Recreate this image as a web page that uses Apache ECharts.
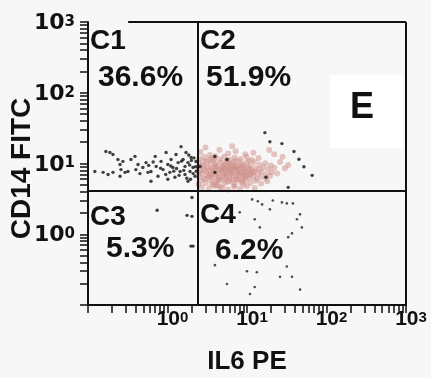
<!DOCTYPE html>
<html>
<head>
<meta charset="utf-8">
<script src="https://cdn.jsdelivr.net/npm/echarts@6/dist/echarts.min.js"></script>
<style>
html,body{margin:0;padding:0;background:#f7f7f7;}
#chart{width:431px;height:378px;}
</style>
</head>
<body>
<div id="chart"></div>
<script>
// ---- axis ticks / labels ----
const tickValues = [0.1,0.2,0.3,0.4,0.5,0.6,0.7,0.8,0.9,
  1,2,3,4,5,6,7,8,9,
  10,20,30,40,50,60,70,80,90,
  100,200,300,400,500,600,700,800,900,1000];
const labelValues = [1, 10, 100, 1000];
const labelExponents = ['0', '1', '2', '3'];
const xAxisTitle = 'IL6 PE';
const yAxisTitle = 'CD14 FITC';

// ---- quadrant gates (IL6 PE, CD14 FITC) ----
const gateX = 2.4;
const gateY = 4.1;
const quadrantNames = ['C1', 'C2', 'C3', 'C4'];
const quadrantPercents = ['36.6%', '51.9%', '5.3%', '6.2%'];
const panelLetter = 'E';

// ---- events: [IL6 PE, CD14 FITC] ----
const blackEventsC1 = [
  [0.168,14.8],[0.189,14.3],[0.206,13.4],[0.122,7.7],[0.155,7.5],[0.179,7.0],[0.206,7.5],
  [0.238,11.4],[0.253,9.7],[0.275,10.7],[0.26,8.2],[0.292,7.5],[0.318,7.7],[0.253,6.6],
  [0.347,11.4],[0.39,12.6],[0.426,9.7],[0.40,8.2],[0.49,8.8],[0.537,10.3],[0.569,7.5],
  [0.62,7.7],[0.70,12.6],[0.72,9.1],[0.76,6.6],[0.83,10.7],[0.88,8.2],[0.96,14.3],
  [1.01,9.7],[1.07,7.5],[1.11,11.4],[1.17,8.8],[1.24,6.4],[1.28,13.4],[1.36,10.3],
  [1.44,7.7],[1.48,17.3],[1.57,11.4],[1.66,9.1],[1.66,7.0],[1.71,14.3],[1.81,10.3],
  [1.92,7.7],[1.98,12.2],[2.09,8.8],[2.22,6.6],[2.28,10.7],[1.81,5.6],[1.01,6.0],[0.62,5.6],
  [1.9,9.5],[2.1,7.2],[2.0,11],[1.6,8.0],[1.75,6.2],[2.25,9.0],[1.3,8.5],[1.5,10.8],
  [1.2,7.8],[0.95,7.0],[1.85,13.2],[2.15,12.0],[0.45,7.2],[0.58,9.4],[0.82,8.6],[1.4,6.8],
  [1.95,6.0],[2.3,7.8],[1.1,9.2],[0.66,10.5]
];
const blackEventsC2 = [
  [16.8,27.3],[19.4,20.3],[27.5,19.1],[39,14.8],[3.95,12.6],[5.6,11.4],[3.95,7.5],
  [17.3,6.4],[66,6.8],[33,4.6],[2.56,9.1],[45,11.5],[52,9.0]
];
const blackEventsC3 = [
  [0.74,2.18],[1.76,1.85],[2.03,1.79],[1.97,0.68],[2.03,3.3],[2.1,0.68]
];
const blackEventsC4 = [
  [11.6,3.11],[13.7,2.92],[15.5,2.64],[19.4,2.25],[21.1,3.0],[27.5,2.82],[31.7,2.73],
  [37.8,2.73],[46.5,1.91],[42.5,1.63],[49,1.25],[36.8,1.03],[8.1,2.04],[12.5,1.63],
  [14.5,1.25],[33,0.91],[3.95,0.366],[13.3,0.29],[10,0.30],[26,0.25],[31.7,0.35],
  [36.8,0.25],[12.5,0.18],[10.9,0.143],[5.6,0.198],[46.5,0.165]
];
const pinkEvents = [
  [2.6,14.5],[3.4,13.2],[4.5,15.5],[5.8,13.8],[7.2,14.9],[9.5,13.5],[3.0,16.8],[6.5,17.5],[12,14.2],[4.0,12.8],
  [2.5,11.8],[2.9,12.4],[3.3,11.2],[3.9,12.1],[4.6,11.5],[5.2,12.6],[6.1,11.3],[7.0,12.2],[8.3,11.6],[9.9,12.4],
  [11.5,11.2],[14,12],[5.6,11.0],[3.6,11.9],
  [2.45,10.2],[2.7,9.4],[3.1,10.6],[3.5,9.8],[3.8,10.9],[4.2,9.3],[4.7,10.4],[5.1,9.6],[5.6,10.8],[6.2,9.5],
  [6.8,10.3],[7.5,9.2],[8.1,10.6],[8.9,9.7],[9.8,10.2],[11,9.4],[12.5,10.5],[14.5,9.6],[17,10.1],[20,9.4],
  [2.8,10.8],[4.0,10.1],[5.9,10.0],[7.2,10.9],[10.5,10.9],
  [2.5,8.6],[2.9,8.2],[3.2,8.9],[3.6,8.4],[4.1,8.7],[4.5,8.1],[4.9,8.9],[5.4,8.3],[5.9,8.8],[6.5,8.2],
  [7.1,8.6],[7.8,8.0],[8.5,8.7],[9.3,8.3],[10.2,8.8],[11.4,8.1],[12.8,8.6],[14.2,8.2],[16,8.8],[18.5,8.3],
  [22,8.7],[3.4,8.0],[5.1,8.5],[6.9,9.0],[9.0,9.0],
  [2.42,7.5],[2.75,7.2],[3.05,7.8],[3.4,7.1],[3.8,7.6],[4.3,7.3],[4.8,7.9],[5.3,7.2],[5.8,7.6],[6.4,7.1],
  [7.0,7.7],[7.7,7.2],[8.4,7.6],[9.1,7.0],[10,7.5],[11,7.1],[12.2,7.7],[13.6,7.2],[15.3,7.6],[17.5,7.0],
  [20.5,7.5],[24,7.2],[4.0,7.9],[6.1,7.95],[9.6,7.8],
  [2.5,6.6],[2.85,6.2],[3.2,6.8],[3.6,6.3],[4.0,6.7],[4.4,6.1],[4.9,6.5],[5.4,6.9],[6.0,6.2],[6.6,6.6],
  [7.3,6.1],[8.0,6.8],[8.8,6.3],[9.7,6.7],[10.8,6.2],[12,6.6],[13.4,6.1],[15,6.5],[17.2,6.2],[19.5,6.7],
  [5.1,6.0],[3.0,6.0],
  [2.6,5.7],[3.0,5.3],[3.5,5.8],[4.0,5.4],[4.6,5.9],[5.2,5.2],[5.9,5.7],[6.7,5.3],[7.5,5.8],[8.5,5.4],
  [9.6,5.9],[11,5.3],[12.8,5.7],[15,5.2],[18,5.6],[2.45,5.1],[4.3,5.0],
  [2.7,4.6],[3.3,4.4],[4.1,4.8],[4.9,4.5],[5.8,4.3],[6.9,4.7],[8.2,4.4],[10,4.8],[12.5,4.5],[3.8,4.9],
  [3.7,7.0],[4.4,6.6],[5.0,7.4],[5.5,6.4],[6.3,7.4],[7.4,6.9],[8.6,7.3],[3.3,6.5],[4.8,8.3],[6.0,8.5],
  [7.6,8.4],[9.4,6.5],[5.7,5.5],[6.5,5.9],[7.9,6.0],[4.2,5.7],[3.6,5.1],[8.9,5.6],[10.5,6.9],[11.8,7.4],
  [2.6,7.9],[2.9,9.2],[3.9,9.0],[5.3,9.2],[6.6,9.4],[8.2,9.3],[10.7,8.4],[4.6,4.6],[7.0,4.9],[9.0,5.0],
  [26,10.5],[30,8.6],[28,12.5],[33,9.5],[22,13.5],[19,15.5]
];

const ink = '#111111';
const chart = echarts.init(document.getElementById('chart'));

function expOf(v) {
  const idx = labelValues.findIndex(lv => Math.abs(Math.log10(lv) - Math.log10(v)) < 0.01);
  return idx >= 0 ? labelExponents[idx] : String(Math.round(Math.log10(v)));
}

const option = {
  backgroundColor: '#f7f7f7',
  animation: false,
  grid: { left: 88, right: 25, top: 22, bottom: 73, containLabel: false, outerBoundsMode: 'none' },
  xAxis: {
    type: 'log', logBase: 10, min: 0.1, max: 1000,
    name: xAxisTitle, nameLocation: 'middle', nameGap: 44, nameMoveOverlap: false,
    nameTextStyle: { fontFamily: 'Liberation Sans', fontWeight: 'bold', fontSize: 26, color: ink },
    axisLine: { show: true, onZero: false, lineStyle: { color: ink, width: 2 } },
    axisTick: { show: true, length: 8, inside: false, customValues: tickValues, lineStyle: { color: ink, width: 1.5 } },
    minorTick: { show: false },
    splitLine: { show: false },
    axisLabel: {
      customValues: labelValues, margin: 5, padding: [0, 0, 0, 10],
      formatter: v => '{b|10}{s|' + expOf(v) + '}',
      rich: {
        b: { fontFamily: 'Liberation Sans', fontWeight: 'bold', fontSize: 21, lineHeight: 20, color: ink, verticalAlign: 'bottom' },
        s: { fontFamily: 'Liberation Sans', fontWeight: 'bold', fontSize: 15, lineHeight: 14, color: ink, verticalAlign: 'top' }
      }
    }
  },
  yAxis: {
    type: 'log', logBase: 10, min: 0.1, max: 1000,
    name: yAxisTitle, nameLocation: 'middle', nameGap: 52, nameRotate: 90, nameMoveOverlap: false,
    nameTextStyle: { fontFamily: 'Liberation Sans', fontWeight: 'bold', fontSize: 28, color: ink, padding: [0, 10, 0, 0] },
    axisLine: { show: true, lineStyle: { color: ink, width: 2 } },
    axisTick: { show: true, length: 8, inside: false, customValues: tickValues, lineStyle: { color: ink, width: 1.5 } },
    minorTick: { show: false },
    splitLine: { show: false },
    axisLabel: {
      customValues: labelValues, margin: 13, padding: [5, 0, 0, 0],
      formatter: v => '{b|10}{s|' + expOf(v) + '}',
      rich: {
        b: { fontFamily: 'DejaVu Sans', fontWeight: 'bold', fontSize: 22, lineHeight: 20, color: ink, verticalAlign: 'bottom' },
        s: { fontFamily: 'DejaVu Sans', fontWeight: 'bold', fontSize: 15, lineHeight: 14, color: ink, verticalAlign: 'top' }
      }
    }
  },
  series: [
    {
      type: 'scatter', name: 'CD14+IL6+', data: pinkEvents,
      symbol: 'circle', symbolSize: 6,
      itemStyle: { color: '#cf8f8a', opacity: 0.5 },
      silent: true
    },
    {
      type: 'scatter', name: 'events', clip: false,
      data: blackEventsC1.concat(blackEventsC2, blackEventsC3),
      symbol: 'circle', symbolSize: 3.4,
      itemStyle: { color: '#111' },
      silent: true,
      markLine: {
        silent: true, symbol: ['none', 'none'],
        label: { show: false },
        lineStyle: { color: ink, width: 2, type: 'solid' },
        data: [
          { xAxis: gateX },
          { yAxis: gateY },
          [{ coord: [0.32, 1000] }, { coord: [1000, 1000] }],
          { xAxis: 1000 }
        ]
      }
    },
    {
      type: 'scatter', name: 'C4 events', data: blackEventsC4,
      symbol: 'circle', symbolSize: 2.6,
      itemStyle: { color: '#222' },
      silent: true
    }
  ],
  graphic: [
    { type: 'text', left: 90, top: 27, style: { text: quadrantNames[0], font: 'bold 28px "Liberation Sans"', fill: ink } },
    { type: 'text', left: 98, top: 63, style: { text: quadrantPercents[0], font: 'bold 30px "Liberation Sans"', fill: ink } },
    { type: 'text', left: 200, top: 27, style: { text: quadrantNames[1], font: 'bold 28px "Liberation Sans"', fill: ink } },
    { type: 'text', left: 206, top: 63, style: { text: quadrantPercents[1], font: 'bold 30px "Liberation Sans"', fill: ink } },
    { type: 'text', left: 90, top: 203, style: { text: quadrantNames[2], font: 'bold 28px "Liberation Sans"', fill: ink } },
    { type: 'text', left: 106, top: 234, style: { text: quadrantPercents[2], font: 'bold 30px "Liberation Sans"', fill: ink } },
    { type: 'text', left: 200, top: 201, style: { text: quadrantNames[3], font: 'bold 28px "Liberation Sans"', fill: ink } },
    { type: 'text', left: 215, top: 236, style: { text: quadrantPercents[3], font: 'bold 30px "Liberation Sans"', fill: ink } },
    { type: 'rect', left: 330, top: 75, shape: { width: 73, height: 73 }, style: { fill: '#ffffff' }, z: 10 },
    { type: 'text', left: 350, top: 90, z: 11, style: { text: panelLetter, font: 'bold 36px "Liberation Sans"', fill: ink } }
  ]
};
chart.setOption(option);
</script>
</body>
</html>
